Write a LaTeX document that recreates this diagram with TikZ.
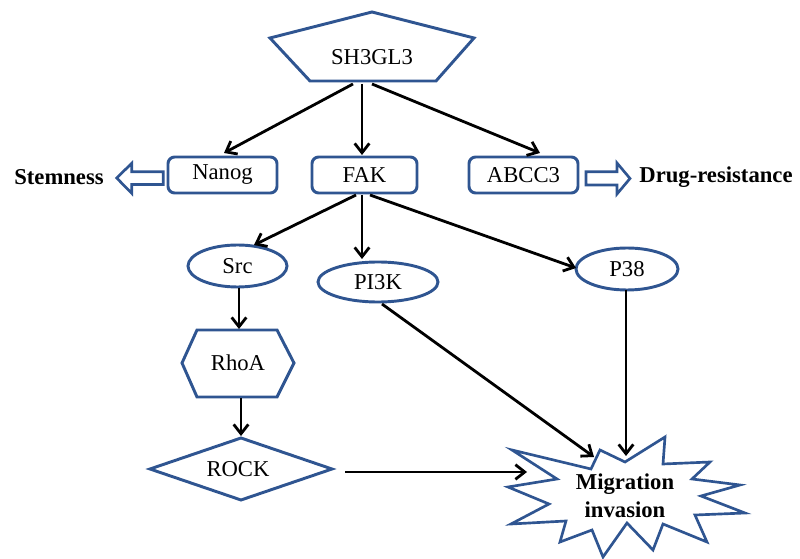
\documentclass[tikz,border=0pt]{standalone}
\usepackage{fontspec}
\setmainfont{Liberation Serif}
\usetikzlibrary{arrows.meta,shapes.geometric}
\definecolor{shapeblue}{RGB}{47,85,145}
\begin{document}
\begin{tikzpicture}[x=0.75pt,y=-0.75pt,
  every node/.style={font=\fontsize{17}{21}\selectfont, inner sep=0pt},
  outl/.style={draw=shapeblue, line width=2.2pt, line join=miter},
  rbox/.style={outl, rounded corners=5pt, minimum height=27pt},
  oval/.style={outl, ellipse},
  conn/.style={line width=2.1pt, -{Straight Barb[length=7pt,width=11pt]}},
  boldtxt/.style={font=\fontsize{17}{21}\selectfont\bfseries}]
\useasboundingbox (0,0) rectangle (800,559);

% shapes
\draw[outl] (372,12) -- (474,38) -- (436,81) -- (310,81) -- (270,38) -- cycle;
\node (sh) at (372,57) {SH3GL3};

\node[rbox, minimum width=81.75pt] (nanog) at (222.5,175) {Nanog};
\node[rbox, minimum width=78.75pt] (fak) at (364.5,175) {FAK};
\node[rbox, minimum width=81.75pt] (abcc) at (523.5,175) {ABCC3};

\node[boldtxt] (stem) at (59,177) {Stemness};
\node[boldtxt] (drug) at (716,177) {Drug-resistance};

\draw[outl, line width=2pt] (163.3,171.7) -- (131.7,171.7) -- (131.7,163.3) -- (116.7,178) -- (131.7,193.3) -- (131.7,184.5) -- (163.3,184.5) -- cycle;
\draw[outl, line width=2pt] (586,171.7) -- (617,171.7) -- (617,163) -- (630,178.5) -- (617,194) -- (617,185) -- (586,185) -- cycle;

\node[oval, minimum width=74.25pt, minimum height=31.5pt] (src) at (237.5,266) {Src};
\node[oval, minimum width=90pt, minimum height=30pt] (pik) at (378,282) {PI3K};
\node[oval, minimum width=76.5pt, minimum height=31.5pt] (p38) at (627,269) {P38};

\draw[outl] (182,363) -- (197,330) -- (277,330) -- (294,363) -- (277,397) -- (197,397) -- cycle;
\node (rhoa) at (238,363) {RhoA};

\draw[outl] (150,469) -- (241,438) -- (332,469) -- (241,500) -- cycle;
\node (rock) at (238,469) {ROCK};

\draw[outl, line width=2pt] (600,450) -- (625,462) -- (665,437) -- (663,464) -- (710,462) -- (692,479) -- (740,485) -- (701,496) -- (745,513) -- (695,515) -- (707,542) -- (663,524) -- (653,550) -- (627,523) -- (603,557) -- (592,530) -- (560,542) -- (566,521) -- (511,524) -- (549,504) -- (508,487) -- (557,479) -- (512,450) -- (591,469) -- cycle;
\node[boldtxt, align=center] (mig) at (625,496) {Migration\\invasion};

% connector end points
\coordinate (shL) at (353,84);
\coordinate (shM) at (362,84);
\coordinate (shR) at (372,84);
\coordinate (fakL) at (356,195);
\coordinate (fakM) at (362,195);
\coordinate (fakR) at (370,195);
\coordinate (nanogT) at (224,153);
\coordinate (fakT) at (362,155);
\coordinate (abccT) at (540,153);
\coordinate (srcT) at (254,245);
\coordinate (pikT) at (362,259);
\coordinate (p38W) at (576,268);
\coordinate (srcB) at (239,288);
\coordinate (rhoaT) at (239,329);
\coordinate (rhoaB) at (241,398);
\coordinate (rockT) at (241,436);
\coordinate (rockE) at (345,472);
\coordinate (migW) at (527,472);
\coordinate (pikB) at (382,304);
\coordinate (migNW) at (594,457);
\coordinate (p38B) at (626,290);
\coordinate (migN) at (626,456);

% connectors
\draw[conn] (shL) -- (nanogT);
\draw[conn] (shM) -- (fakT);
\draw[conn] (shR) -- (abccT);
\draw[conn] (fakL) -- (srcT);
\draw[conn] (fakM) -- (pikT);
\draw[conn] (fakR) -- (p38W);
\draw[conn] (srcB) -- (rhoaT);
\draw[conn] (rhoaB) -- (rockT);
\draw[conn] (rockE) -- (migW);
\draw[conn] (pikB) -- (migNW);
\draw[conn] (p38B) -- (migN);
\end{tikzpicture}
\end{document}
